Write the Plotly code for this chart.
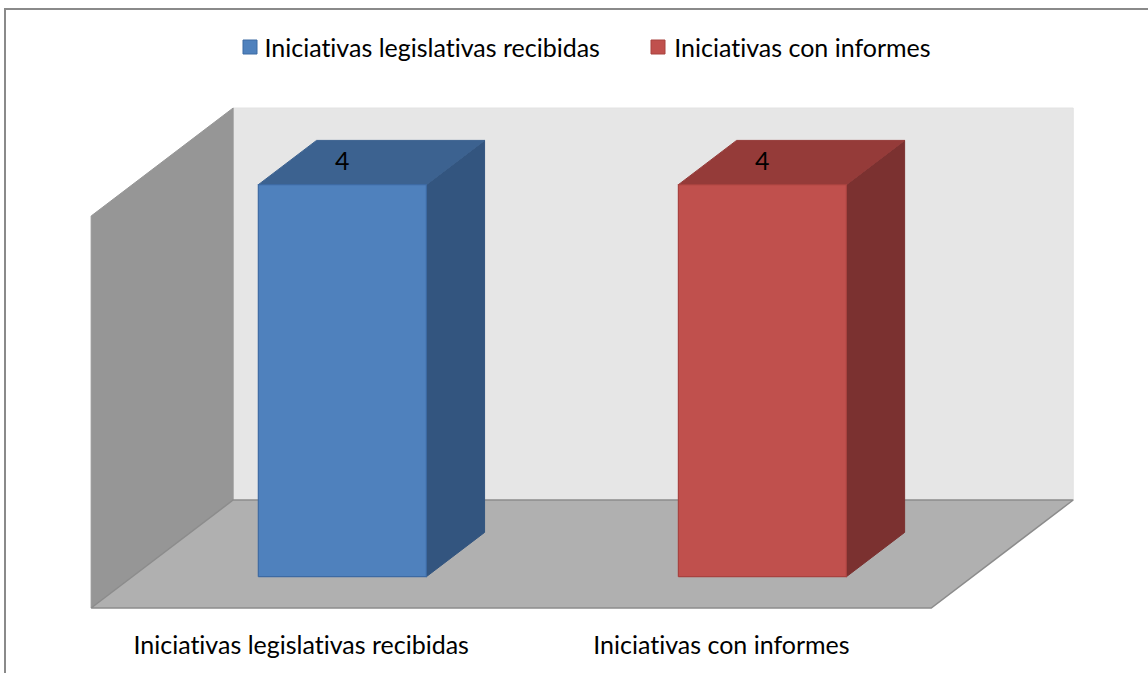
import plotly.graph_objects as go

# ---------------- data ----------------
categories = ["Iniciativas legislativas recibidas", "Iniciativas con informes"]
series_names = ["Iniciativas legislativas recibidas", "Iniciativas con informes"]
values = [4, 4]
value_axis_max = 4

# ---------------- style ----------------
front_colors = ["#4F81BD", "#C0504D"]
top_colors = ["#3C6290", "#953B39"]
side_colors = ["#33557F", "#7B3130"]
edge_colors = ["#3D6AA3", "#A8423F"]
FONT = "Lato"
FSIZE = 25

# oblique projection (category units / value units per unit of depth)
DX = 0.338
DY = 1.102
BAR_HALF = 0.2
D_FRONT, D_BACK = 0.29, 0.70


def P(x, v, d):
    return x + d * DX, v + d * DY


def poly(pts, fill, line_color, line_width=1):
    xs = [p[0] for p in pts] + [pts[0][0]]
    ys = [p[1] for p in pts] + [pts[0][1]]
    return go.Scatter(x=xs, y=ys, mode="lines", fill="toself", fillcolor=fill,
                      line=dict(color=line_color, width=line_width),
                      hoverinfo="skip", showlegend=False)


fig = go.Figure()

xl, xr = -0.5, len(categories) - 0.5
vmax = value_axis_max

# back wall
fig.add_trace(poly([P(xl, 0, 1), P(xr, 0, 1), P(xr, vmax, 1), P(xl, vmax, 1)],
                   "#E6E6E6", "#E2E2E2", 1))
# side wall
fig.add_trace(poly([P(xl, 0, 0), P(xl, 0, 1), P(xl, vmax, 1), P(xl, vmax, 0)],
                   "#969696", "#969696", 1))
# floor
fig.add_trace(poly([P(xl, 0, 0), P(xr, 0, 0), P(xr, 0, 1), P(xl, 0, 1)],
                   "#B0B0B0", "#8C8C8C", 1.5))

# bars
for i, v in enumerate(values):
    x0, x1 = i - BAR_HALF, i + BAR_HALF
    fig.add_trace(poly([P(x1, 0, D_FRONT), P(x1, v, D_FRONT), P(x1, v, D_BACK), P(x1, 0, D_BACK)],
                       side_colors[i], side_colors[i], 1))
    fig.add_trace(poly([P(x0, v, D_FRONT), P(x1, v, D_FRONT), P(x1, v, D_BACK), P(x0, v, D_BACK)],
                       top_colors[i], top_colors[i], 1))
    fig.add_trace(poly([P(x0, 0, D_FRONT), P(x1, 0, D_FRONT), P(x1, v, D_FRONT), P(x0, v, D_FRONT)],
                       front_colors[i], edge_colors[i], 1.2))
    lx, _ = P(i, v, D_FRONT)
    _, ly = P(i, v, 0.52)
    fig.add_annotation(x=lx, y=ly, xref="x", yref="y", text=str(v), showarrow=False,
                       font=dict(family=FONT, size=FSIZE, color="#000000"))

# category labels
for i, c in enumerate(categories):
    fig.add_annotation(x=i, y=-0.37, xref="x", yref="y", text=c, showarrow=False,
                       font=dict(family=FONT, size=FSIZE, color="#000000"))

# legend (squares + text)
W, H = 1148, 673
legend_items = [(243, 262), (651, 672)]
for (sq_x, tx), name, fc, ec in zip(legend_items, series_names, front_colors, edge_colors):
    fig.add_shape(type="rect", xref="paper", yref="paper",
                  x0=sq_x / W, x1=(sq_x + 14) / W, y0=1 - 54 / H, y1=1 - 40 / H,
                  fillcolor=fc, line=dict(color=ec, width=1))
    fig.add_annotation(x=tx / W, y=1 - 47 / H, xref="paper", yref="paper", text=name,
                       showarrow=False, xanchor="left", yanchor="middle",
                       font=dict(family=FONT, size=FSIZE, color="#000000"))

# chart area border (extends past right / bottom edge)
fig.add_shape(type="rect", xref="paper", yref="paper",
              x0=5 / W, x1=1.02, y0=-0.05, y1=1 - 9 / H,
              line=dict(color="#8A8A8A", width=2), fillcolor="rgba(0,0,0,0)", layer="above")

fig.update_layout(
    width=W, height=H,
    margin=dict(l=0, r=0, t=0, b=0),
    paper_bgcolor="white", plot_bgcolor="white",
    showlegend=False,
    xaxis=dict(range=[-0.717, 2.016], visible=False, fixedrange=True),
    yaxis=dict(range=[-0.663, 6.204], visible=False, fixedrange=True),
)

fig.write_html(
    "out.html",
    config={"displayModeBar": False, "staticPlot": True},
    post_script=(
        "document.body.style.margin='0px';"
        "document.body.style.overflow='hidden';"
        "document.querySelectorAll('text').forEach(function(t){"
        "t.style.fontVariantLigatures='none';t.style.fontFeatureSettings='\"liga\" 0';});"
    ),
)
